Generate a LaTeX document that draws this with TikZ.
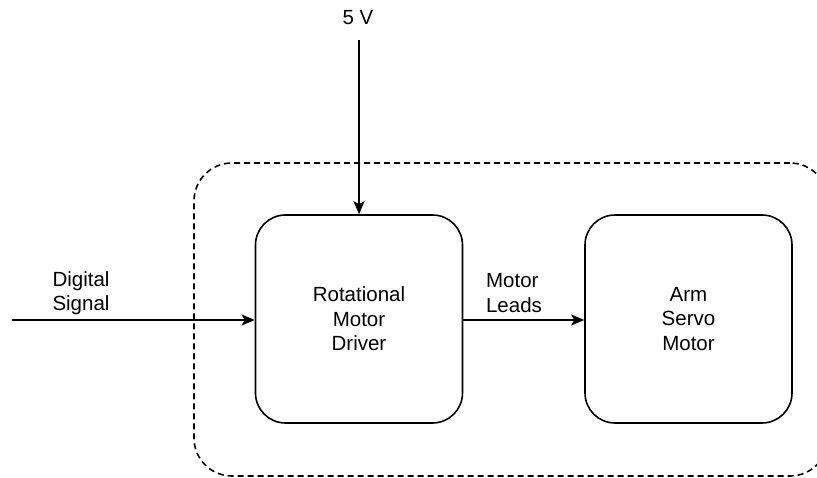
\documentclass[tikz,border=0pt]{standalone}
\usepackage{fontspec}
\setmainfont{Liberation Sans}
\usepackage{tikz}
\usetikzlibrary{arrows.meta}

\tikzset{
	block/.style={draw, line width=1.6pt, rounded corners=30pt, minimum width=207pt, minimum height=208pt, align=center},
	group/.style={draw, line width=1.6pt, dash pattern=on 6pt off 4pt, rounded corners=38pt, minimum width=634pt, minimum height=313pt},
	label/.style={align=left, inner sep=0pt},
	wire/.style={line width=1.6pt, -{Stealth[length=13pt,width=11pt,inset=3pt]}}
}

\begin{document}
\begin{tikzpicture}[x=1pt, y=-1pt, font=\fontsize{20.5}{24.5}\selectfont]
	\useasboundingbox (0,0) rectangle (817,478);
	\clip (0,0) rectangle (817,478);

	\node[group] (box) at (511,319.5) {};
	\node[block] (driver) at (359,319) {Rotational\\Motor\\Driver};
	\node[block] (servo) at (688.5,319) {Arm\\Servo\\Motor};

	\node[label] (volt) at (358,18) {5 V};
	\node[label] (dsig) at (81,293) {Digital\\Signal};
	\node[label] (leads) at (514,293) {Motor\\Leads};

	\coordinate (vin) at (359,40);
	\coordinate (sin) at (12,320);

	\path [wire] (vin) edge (driver.north);
	\path [wire] (sin) edge (sin -| driver.west);
	\path [wire] (driver.east |- sin) edge (sin -| servo.west);
\end{tikzpicture}
\end{document}
